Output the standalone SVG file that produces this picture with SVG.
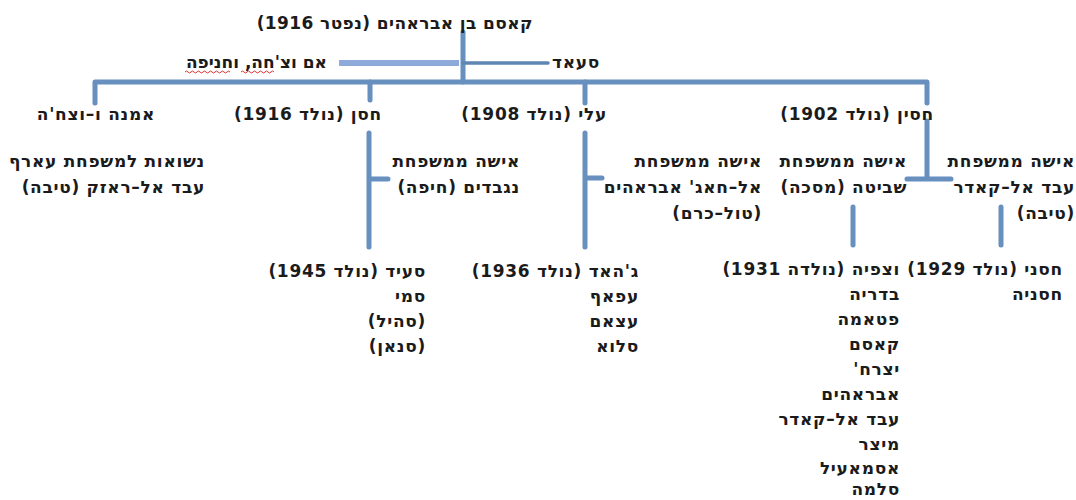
<svg xmlns="http://www.w3.org/2000/svg" width="1076" height="500" viewBox="0 0 1076 500">
<style>
text{font-family:"DejaVu Sans","Liberation Sans",sans-serif;font-size:17px;font-weight:bold;letter-spacing:0.7px;fill:#1b1b1b;direction:rtl;text-anchor:start;}
.c{stroke:#6790bf;stroke-width:5;fill:none;stroke-linecap:round;stroke-linejoin:round;}
.thin{stroke:#5f86b3;stroke-width:3.5;fill:none;stroke-linecap:round;}
.light{stroke:#8eaadb;stroke-width:6;fill:none;}
.sq{stroke:#e03030;stroke-width:1;fill:none;}
</style>
<rect width="1076" height="500" fill="#ffffff"/>
<g id="connectors">
<path class="c" d="M463 32 V82"/>
<path class="c" d="M95 103 V82 H927 V103"/>
<path class="c" d="M370 82 V100"/>
<path class="c" d="M585 82 V103"/>
<path class="thin" d="M463 63 H548"/>
<path class="light" d="M339 63 H459"/>
<path class="c" d="M369 133 V247 M369 179 H388"/>
<path class="c" d="M585 133 V247 M585 178 H602"/>
<path class="c" d="M927 121 V179 M907 179 H951"/>
<path class="c" d="M853 207 V245"/>
<path class="c" d="M1001 207 V245"/>
</g>
<g id="n-qasem"><text x="533" y="29" style="letter-spacing:0.4px">קאסם בן אבראהים (נפטר 1916)</text></g>
<g id="n-saad"><text x="600" y="68">סעאד</text></g>
<g id="n-mother"><text x="327" y="68" style="letter-spacing:0px">אם וצ'חה, וחניפה</text>
<path class="sq" d="M185 72 q1.5 -2 3 0 t3 0 t3 0 t3 0 t3 0 t3 0 t3 0 t3 0 t3 0 t3 0 t3 0 t3 0 t3 0 t3 0 t3 0"/>
<path class="sq" d="M241 72 q1.5 -2 3 0 t3 0 t3 0 t3 0 t3 0 t3 0 t3 0 t3 0 t3 0 t3 0 t3 0"/>
</g>
<g id="n-amna"><text x="155" y="120">אמנה ו–וצח'ה</text>
<text x="205" y="167">נשואות למשפחת עארף</text>
<text x="205" y="193">עבד אל–ראזק (טיבה)</text></g>
<g id="n-hasan"><text x="382" y="120">חסן (נולד 1916)</text></g>
<g id="n-ali"><text x="607" y="120">עלי (נולד 1908)</text></g>
<g id="n-husein"><text x="934" y="120">חסין (נולד 1902)</text></g>
<g id="n-hasan-wife"><text x="520" y="167">אישה ממשפחת</text>
<text x="520" y="193">נגבדים (חיפה)</text></g>
<g id="n-ali-wife"><text x="762" y="167">אישה ממשפחת</text>
<text x="762" y="193">אל–חאג' אבראהים</text>
<text x="762" y="219">(טול–כרם)</text></g>
<g id="n-husein-wife2"><text x="907" y="167">אישה ממשפחת</text>
<text x="907" y="193">שביטה (מסכה)</text></g>
<g id="n-husein-wife1"><text x="1075" y="167">אישה ממשפחת</text>
<text x="1075" y="193">עבד אל–קאדר</text>
<text x="1075" y="219">(טיבה)</text></g>
<g id="n-hasan-children"><text x="426" y="277">סעיד  (נולד 1945)</text>
<text x="426" y="302">סמי</text>
<text x="426" y="327">(סהיל)</text>
<text x="426" y="352">(סנאן)</text></g>
<g id="n-ali-children"><text x="639" y="277">ג'האד  (נולד 1936)</text>
<text x="639" y="302">עפאף</text>
<text x="639" y="327">עצאם</text>
<text x="639" y="352">סלוא</text></g>
<g id="n-husein-children2"><text x="900" y="275">וצפיה  (נולדה 1931)</text>
<text x="900" y="300">בדריה</text>
<text x="900" y="325">פטאמה</text>
<text x="900" y="350">קאסם</text>
<text x="900" y="375">יצרח'</text>
<text x="900" y="400">אבראהים</text>
<text x="900" y="425">עבד אל–קאדר</text>
<text x="900" y="450">מיצר</text>
<text x="900" y="474">אסמאעיל</text>
<text x="900" y="495">סלמה</text></g>
<g id="n-husein-children1"><text x="1063" y="275">חסני (נולד 1929)</text>
<text x="1063" y="300">חסניה</text></g>
</svg>
